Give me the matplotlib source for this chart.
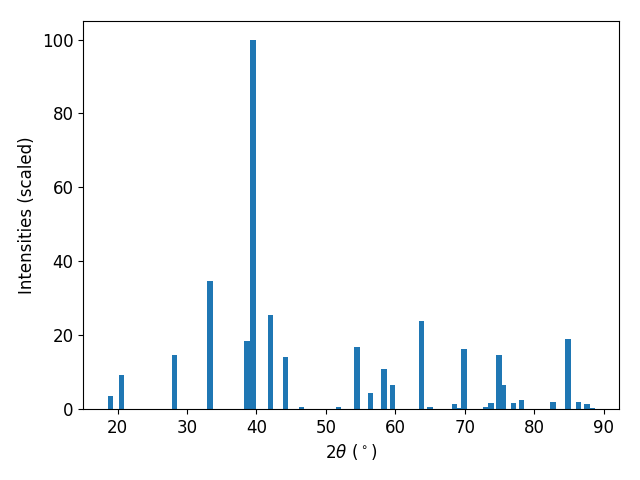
import matplotlib
matplotlib.use("Agg")
import matplotlib.pyplot as plt

# peak positions (2theta, deg) and scaled intensities
two_theta = [18.95, 20.55, 28.2, 33.3, 38.65, 39.5, 42.0, 44.2, 46.5, 51.8,
             54.5, 56.4, 58.4, 59.6, 63.8, 65.0, 68.5, 69.1, 69.9, 73.1,
             73.8, 74.9, 75.6, 77.0, 78.2, 82.7, 84.9, 86.4, 87.6, 88.3]
intensity = [3.5, 9.2, 14.6, 34.7, 18.4, 100.0, 25.5, 14.1, 0.6, 0.6,
             16.8, 4.3, 10.8, 6.5, 23.8, 0.6, 1.4, 0.3, 16.3, 0.4,
             1.6, 14.6, 6.5, 1.6, 2.4, 1.9, 19.0, 1.9, 1.4, 0.3]

plt.rcParams["font.size"] = 12
fig, ax = plt.subplots(figsize=(6.4, 4.8), dpi=100)
ax.bar(two_theta, intensity, width=0.8, color="#1f77b4")
ax.set_xlabel(r"$2\theta\ (^\circ)$")
ax.set_ylabel("Intensities (scaled)")
fig.subplots_adjust(left=0.13, right=0.967, bottom=0.148, top=0.956)
fig.savefig("out.png", dpi=100)
